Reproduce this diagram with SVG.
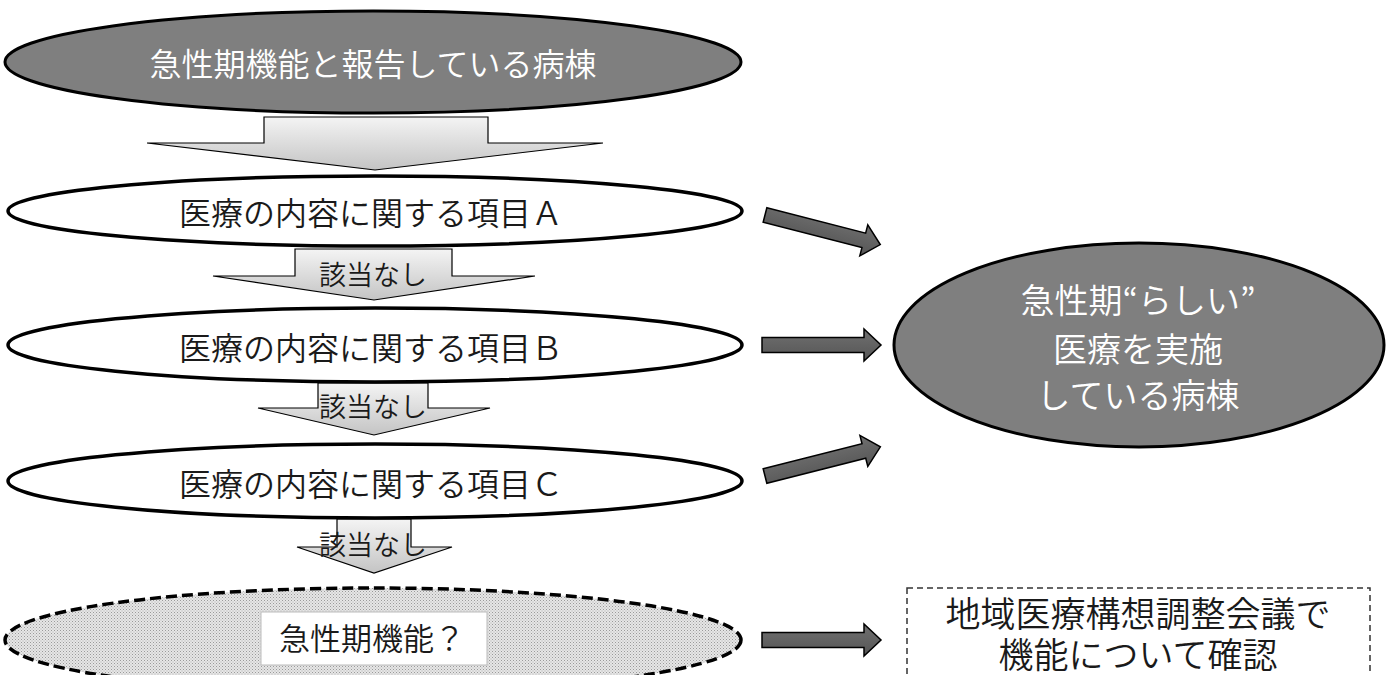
<svg xmlns="http://www.w3.org/2000/svg" width="1395" height="675" viewBox="0 0 1395 675">
<style>
text{font-family:"Noto Sans CJK JP","Noto Sans",sans-serif;font-weight:350;text-anchor:middle;dominant-baseline:central}
.dark{fill:#7f7f7f;stroke:#000;stroke-width:3}
.item{fill:#fff;stroke:#000;stroke-width:3.5}
.wt{fill:#fff}
.bk{fill:#1a1a1a}
.down{fill:url(#gd);stroke:#000;stroke-width:1.2}
.side{fill:url(#gs);stroke:#000;stroke-width:1.5;stroke-linejoin:miter}
</style>
<defs>
<linearGradient id="gd" x1="0" y1="0" x2="0" y2="1">
<stop offset="0" stop-color="#f4f4f4"/>
<stop offset="1" stop-color="#c4c4c4"/>
</linearGradient>
<linearGradient id="gs" x1="0" y1="0" x2="0" y2="1">
<stop offset="0" stop-color="#707070"/>
<stop offset="1" stop-color="#555"/>
</linearGradient>
<pattern id="dots" width="3" height="3" patternUnits="userSpaceOnUse">
<rect width="3" height="3" fill="#e6e6e6"/>
<rect width="1" height="1" fill="#9a9a9a"/>
<rect x="1.5" y="1.5" width="1" height="1" fill="#b0b0b0"/>
</pattern>
<polygon id="sa" points="0,-7.5 102,-7.5 102,-16 119,0 102,16 102,7.5 0,7.5"/>
</defs>

<g id="connectors">
<polygon class="down" points="264,117 488,117 488,143 603,143 375,170 147,143 264,143"/>
<polygon class="down" points="295,249 452,249 452,276 535,276 374,300 213,276 295,276"/>
<polygon class="down" points="318,383 428,383 428,408 490,408 374,435 258,408 318,408"/>
<polygon class="down" points="337,519 411,519 411,547 452,547 374,573 297,547 337,547"/>
<use href="#sa" class="side" transform="translate(765,215) rotate(14.4)"/>
<use href="#sa" class="side" transform="translate(762,345)"/>
<use href="#sa" class="side" transform="translate(765,476) rotate(-14.2)"/>
<use href="#sa" class="side" transform="translate(762,640)"/>
<text x="373" y="273" font-size="27" class="bk">該当なし</text>
<text x="373" y="405" font-size="27" class="bk">該当なし</text>
<text x="373" y="543" font-size="27" class="bk">該当なし</text>
</g>

<g id="node-top">
<ellipse class="dark" cx="373" cy="62" rx="368" ry="51"/>
<text x="373" y="62" font-size="32" class="wt">急性期機能と報告している病棟</text>
</g>

<g id="node-a">
<ellipse class="item" cx="375" cy="211" rx="367" ry="35"/>
<text x="371" y="211" font-size="32" class="bk">医療の内容に関する項目Ａ</text>
</g>

<g id="node-b">
<ellipse class="item" cx="375" cy="345" rx="367" ry="37"/>
<text x="371" y="346" font-size="32" class="bk">医療の内容に関する項目Ｂ</text>
</g>

<g id="node-c">
<ellipse class="item" cx="375" cy="481" rx="367" ry="37"/>
<text x="371" y="482" font-size="32" class="bk">医療の内容に関する項目Ｃ</text>
</g>

<g id="node-q">
<ellipse cx="373" cy="640" rx="368" ry="52" fill="url(#dots)" stroke="#000" stroke-width="3.5" stroke-dasharray="11,5"/>
<rect x="261" y="612" width="226" height="53" fill="#fff" stroke="#bbb" stroke-width="1"/>
<text x="372" y="636" font-size="31" class="bk">急性期機能？</text>
</g>

<g id="node-acute">
<ellipse class="dark" cx="1139" cy="345" rx="245" ry="102"/>
<text x="1138" y="298" font-size="34" class="wt">急性期“らしい”</text>
<text x="1138" y="347" font-size="34" class="wt">医療を実施</text>
<text x="1138" y="393" font-size="34" class="wt">している病棟</text>
</g>

<g id="node-confirm">
<rect x="907" y="588" width="463" height="110" fill="#fff" stroke="#333" stroke-width="1.5" stroke-dasharray="6,4"/>
<text x="1138" y="611" font-size="35" class="bk">地域医療構想調整会議で</text>
<text x="1138" y="652" font-size="35" class="bk">機能について確認</text>
</g>
</svg>
